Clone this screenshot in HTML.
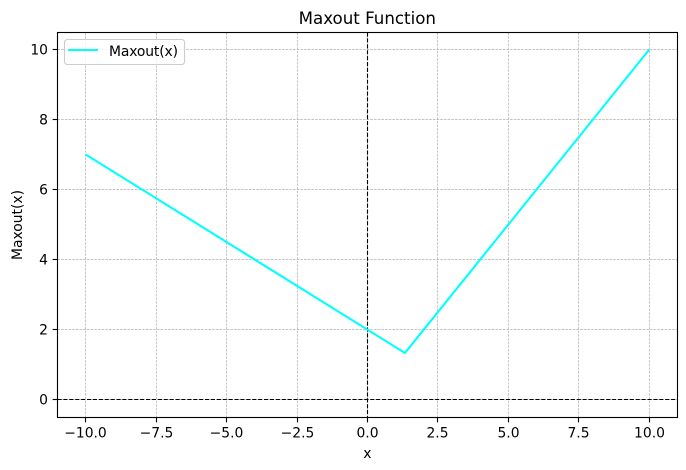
<!DOCTYPE html>
<html>
<head>
<meta charset="utf-8">
<title>Maxout Function</title>
<style>
html,body{margin:0;padding:0;background:#fff;width:686px;height:470px;overflow:hidden}
svg{display:block}
text{font-family:"DejaVu Sans","Liberation Sans",sans-serif;fill:#000}
</style>
</head>
<body>
<svg id="chart" xmlns="http://www.w3.org/2000/svg" width="686" height="470" viewBox="0 0 686 470">
<rect x="0" y="0" width="686" height="470" fill="#fff"/>
<g id="grid"></g>
<g id="ref"></g>
<polyline id="series" fill="none" stroke="#00ffff" stroke-width="2.08" stroke-linejoin="round"/>
<rect x="57.5" y="32.5" width="620" height="385" fill="none" stroke="#000" stroke-width="1.11"/>
<g id="ticks"></g>
<text x="367.3" y="24" font-size="16.67" text-anchor="middle">Maxout Function</text>
<text x="367.3" y="458" font-size="13.89" text-anchor="middle">x</text>
<text transform="translate(22,225) rotate(-90)" font-size="13.89" text-anchor="middle">Maxout(x)</text>
<g>
<rect x="64.5" y="39.5" width="120" height="25" rx="2.8" ry="2.8" fill="#fff" fill-opacity="0.8" stroke="#cccccc" stroke-width="1.11"/>
<line x1="68" y1="50" x2="98" y2="50" stroke="#00ffff" stroke-width="2.08"/>
<text x="109" y="56" font-size="13.89" textLength="69" lengthAdjust="spacing">Maxout(x)</text>
</g>
</svg>
<script>
var seriesX = [-10, 1.33, 10];
var seriesY = [7, 1.33, 10];
var xTicks = [-10, -7.5, -5, -2.5, 0, 2.5, 5, 7.5, 10];
var xTickLabels = ["\u221210.0", "\u22127.5", "\u22125.0", "\u22122.5", "0.0", "2.5", "5.0", "7.5", "10.0"];
var yTicks = [0, 2, 4, 6, 8, 10];
var yTickLabels = ["0", "2", "4", "6", "8", "10"];

var NS = "http://www.w3.org/2000/svg";
function xScale(v) { return 367.5 + v * 28.18; }
function yScale(v) { return 399.5 - v * 35; }
function snap(p) { return Math.floor(p) + 0.5; }
function makeLine(parent, x1, y1, x2, y2, stroke, width, dash) {
  var l = document.createElementNS(NS, "line");
  l.setAttribute("x1", x1);
  l.setAttribute("y1", y1);
  l.setAttribute("x2", x2);
  l.setAttribute("y2", y2);
  l.setAttribute("stroke", stroke);
  l.setAttribute("stroke-width", width);
  if (dash) l.setAttribute("stroke-dasharray", dash);
  parent.appendChild(l);
  return l;
}
function makeText(parent, x, y, s, anchor) {
  var t = document.createElementNS(NS, "text");
  t.setAttribute("x", x);
  t.setAttribute("y", y);
  t.setAttribute("font-size", "13.89");
  t.setAttribute("text-anchor", anchor);
  t.textContent = s;
  parent.appendChild(t);
  return t;
}
var grid = document.getElementById("grid");
var ticks = document.getElementById("ticks");
var ref = document.getElementById("ref");
var GRID = "#b0b0b0", GD = "2.57 1.11";

xTicks.forEach(function (v, i) {
  var px = snap(xScale(v));
  var g = makeLine(grid, px, 32.5, px, 417.5, GRID, 0.7, GD);
  
  
  var m = makeLine(ticks, px, 417.5, px, 422.4, "#000", 1.11);
  
  
  var t = makeText(ticks, px, 437.5, xTickLabels[i], "middle");
  
  
});
yTicks.forEach(function (v, i) {
  var py = snap(yScale(v));
  var g = makeLine(grid, 57.5, py, 677.5, py, GRID, 0.7, GD);
  
  
  var m = makeLine(ticks, 52.6, py, 57.5, py, "#000", 1.11);
  
  
  var t = makeText(ticks, 48, py + 5, yTickLabels[i], "end");
  
  
});

var h0 = makeLine(ref, 57.5, snap(yScale(0)), 677.5, snap(yScale(0)), "#000", 1.11, "4.1 1.8");


var v0 = makeLine(ref, snap(xScale(0)), 32.5, snap(xScale(0)), 417.5, "#000", 1.11, "4.1 1.8");



document.getElementById("series").setAttribute("points", seriesX.map(function (x, i) {
  return xScale(x) + "," + yScale(seriesY[i]);
}).join(" "));
</script>
</body>
</html>
